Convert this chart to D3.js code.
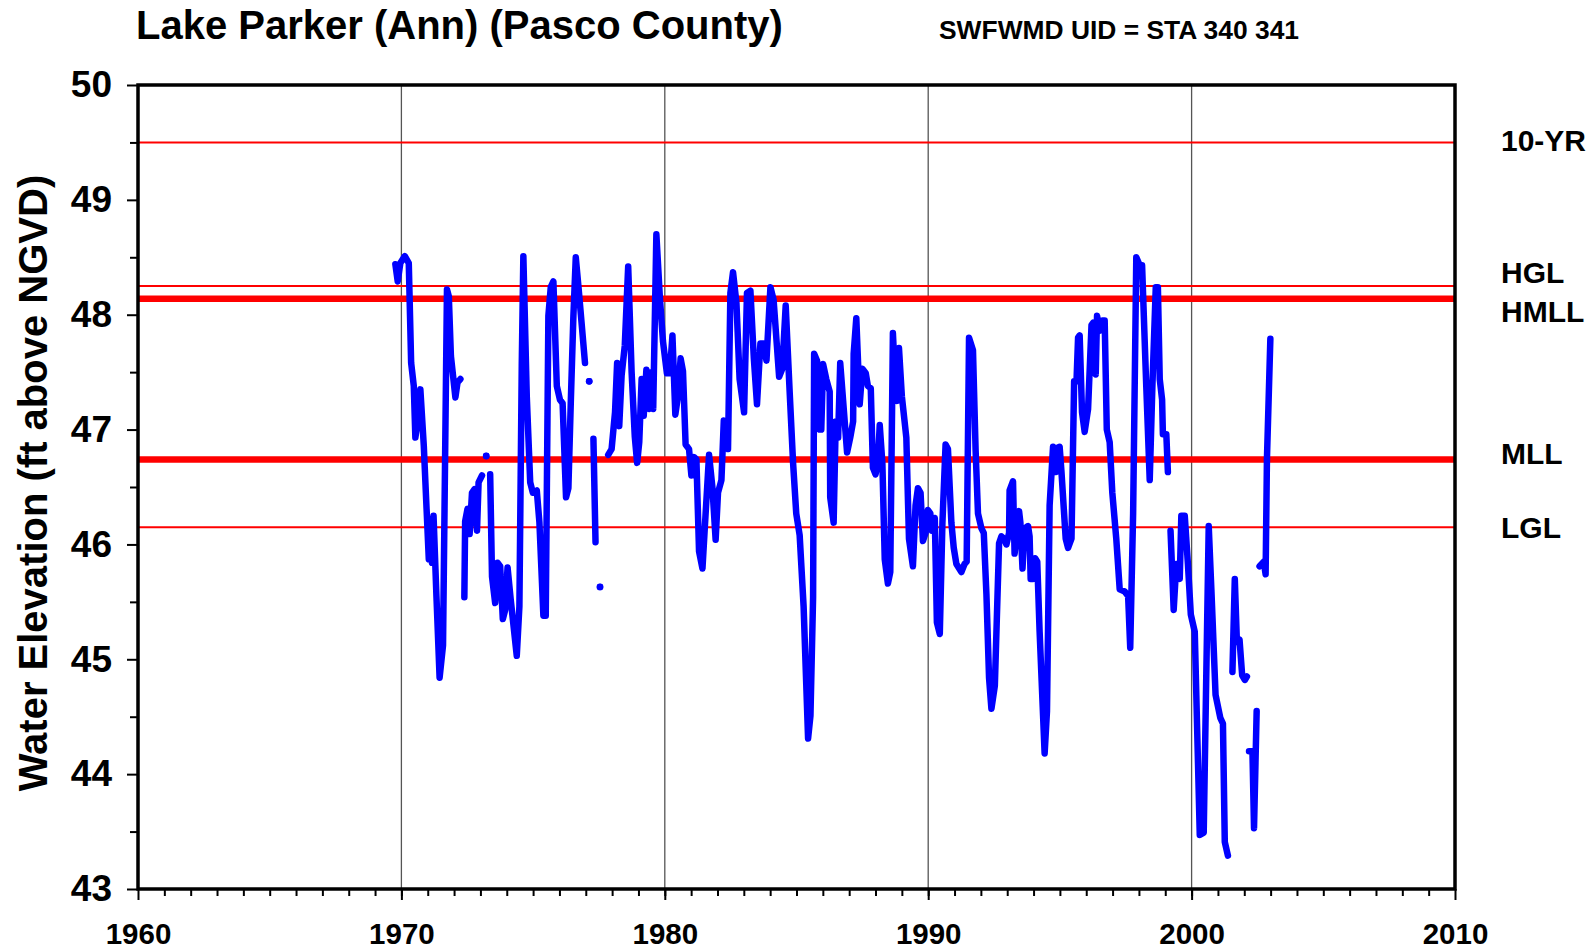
<!DOCTYPE html>
<html>
<head>
<meta charset="utf-8">
<script src="https://cdn.jsdelivr.net/npm/d3@7"></script>
<style>
  body { margin: 0; background: #fff; }
  text { font-family: "Liberation Sans", Arial, sans-serif; font-weight: bold; fill: #000; }
</style>
</head>
<body>
<script>
// lake stage readings (decimal year, ft NGVD); null = break in the record
const years = [
  1969.77,1969.86,1969.96,1970.13,1970.28,1970.37,1970.47,1970.53,1970.63,1970.72,1970.85,1971.04,1971.10,1971.16,1971.22,1971.33,1971.45,1971.58,1971.73,1971.80,1971.88,1972.05,1972.13,1972.24,
  1972.30,
  1972.39,1972.42,1972.51,1972.59,1972.68,1972.77,1972.87,1972.93,1973.06,
  1973.14, 1973.22, 1973.30,
  1973.37,1973.44,1973.56,1973.65,1973.75,1973.85,1973.94,1974.03,1974.15,1974.38,1974.48,1974.57,1974.63,1974.76,1974.89,1974.99,1975.14,1975.24,1975.39,1975.48,1975.58,1975.67,1975.77,1975.90,1976.02,1976.12,1976.25,1976.34,1976.43,1976.53,1976.62,1976.72,1976.84,1976.97,
  1977.05, 1977.13, 1977.20,
  1977.29,1977.37,
  1977.45, 1977.54, 1977.70,
  1977.85,1977.98,1978.11,1978.19,1978.27,1978.36,1978.48,1978.61,1978.74,1978.86,1978.95,1979.03,1979.12,1979.20,1979.30,1979.41,1979.49,1979.56,1979.68,1979.81,1979.93,
  1980.08,1980.19,1980.29,1980.40,1980.50,1980.60,1980.69,1980.79,1980.92,1981.01,1981.11,1981.20,1981.30,1981.43,1981.55,1981.68,1981.81,1981.93,1982.02,1982.15,1982.24,1982.40,1982.49,1982.59,1982.72,1982.84,
  1983.01,1983.12,1983.25,1983.38,1983.50,1983.63,1983.75,1983.86,1984.01,1984.13,1984.34,1984.46,1984.59,1984.74,1984.87,1984.99,1985.12,1985.27,1985.44,1985.53,1985.63,1985.67,1985.78,1985.88,1985.94,
  1986.01,1986.13,1986.26,1986.28,1986.41,1986.49,1986.58,1986.66,1986.77,1986.92,1987.04,1987.15,1987.17,1987.27,1987.40,1987.50,1987.63,1987.71,1987.82,1987.90,1988.00,1988.09,1988.16,1988.26,1988.35,1988.47,1988.56,1988.66,1988.76,1988.82,1988.89,
  1989.00,1989.17,1989.27,1989.42,1989.52,1989.61,1989.71,1989.80,1989.90,1989.99,1990.08,1990.14,1990.25,1990.33,1990.44,1990.54,1990.66,1990.75,1990.88,1990.97,1991.07,1991.26,1991.38,1991.46,1991.55,1991.70,1991.80,1991.89,
  1992.02,1992.11,1992.21,1992.31,1992.40,1992.53,1992.69,1992.78,1992.88,1992.97,1993.07,1993.09,1993.22,1993.28,1993.37,1993.45,1993.50,1993.58,1993.66,1993.79,1993.85,1993.89,1993.98,
  1994.06,1994.14,1994.23,1994.42,1994.51,1994.61,1994.74,1994.84,1994.89,1994.99,1995.06,1995.22,1995.31,1995.44,1995.54,1995.63,1995.69,1995.75,1995.84,1995.94,
  1996.07,1996.20,1996.26,1996.36,1996.41,1996.51,1996.61,1996.70,1996.78,1996.89,1996.99,1997.14,1997.27,1997.46,1997.59,1997.67,1997.78,1997.90,
  1998.03,1998.12,1998.28,1998.41,1998.51,1998.64,1998.72,1998.79,1998.88,1998.91,1999.04,1999.10,
  1999.15,
  1999.20,1999.32,1999.42,1999.55,1999.61,1999.74,1999.86,1999.97,2000.12,2000.31,2000.46,2000.65,2000.75,2000.91,2001.09,2001.19,2001.26,2001.38,
  2001.46,
  2001.55,2001.64,2001.72,2001.82,2001.92,2002.02,2002.10,
  2002.14,
  2002.18,2002.31,2002.37,2002.47,
  2002.52,
  2002.58,2002.74,2002.81,2002.86,2002.99
];
const levels = [
  48.44,48.29,48.45,48.51,48.45,47.58,47.38,46.93,47.09,47.35,46.86,45.87,46.22,45.84,46.25,45.55,44.84,45.12,48.22,48.16,47.64,47.28,47.41,47.44,
  null,
  45.54,46.20,46.31,46.09,46.45,46.48,46.12,46.54,46.60,
  null, 46.77, null,
  46.61,45.72,45.49,45.84,45.81,45.35,45.43,45.80,45.52,45.03,45.46,47.58,48.51,47.29,46.54,46.45,46.47,46.19,45.38,45.38,47.99,48.24,48.29,47.38,47.26,47.23,46.41,46.49,47.23,47.99,48.50,48.25,47.93,47.58,
  null, 47.42, null,
  46.92,46.02,
  null, 45.63, null,
  46.78,46.83,47.15,47.58,47.03,47.47,47.73,48.42,47.50,46.94,46.71,46.89,47.44,47.12,47.52,47.18,47.50,47.18,48.70,48.16,47.77,
  47.49,47.49,47.82,47.13,47.29,47.62,47.51,46.87,46.83,46.60,46.76,46.74,45.94,45.79,46.27,46.78,46.49,46.04,46.45,46.56,47.08,46.83,48.19,48.37,48.10,47.44,
  47.15,48.19,48.21,47.62,47.22,47.75,47.75,47.60,48.24,48.13,47.46,47.53,48.08,47.33,46.71,46.27,46.08,45.46,44.31,44.51,45.54,47.66,47.60,47.00,47.00,
  47.57,47.44,47.33,46.41,46.19,47.07,46.93,47.58,47.25,46.80,46.93,47.07,47.66,47.97,47.22,47.53,47.49,47.38,47.36,46.67,46.61,46.71,47.04,46.71,45.87,45.66,45.76,47.84,47.36,47.25,47.71,
  47.29,46.93,46.05,45.81,46.34,46.49,46.45,46.03,46.10,46.30,46.27,46.12,46.23,45.32,45.22,46.19,46.87,46.83,46.19,45.97,45.83,45.76,45.83,45.85,47.80,47.69,46.82,46.27,
  46.14,46.10,45.57,44.84,44.57,44.77,46.01,46.07,46.05,46.00,46.10,46.47,46.55,45.92,46.14,46.29,46.19,45.79,46.14,46.16,46.07,45.70,45.70,
  45.88,45.85,45.24,44.18,44.55,46.34,46.85,46.63,46.84,46.85,46.63,46.05,45.97,46.05,47.42,47.42,47.80,47.82,47.15,46.98,
  47.18,47.91,47.93,47.48,47.99,47.86,47.95,47.95,47.00,46.89,46.45,46.05,45.61,45.59,45.55,45.10,46.27,48.50,
  48.43,48.43,47.37,46.56,47.37,48.24,48.24,47.44,47.26,46.96,46.96,46.63,
  null,
  46.12,45.43,45.83,45.70,46.25,46.25,45.83,45.39,45.24,43.47,43.49,46.16,45.61,44.69,44.49,44.44,43.41,43.29,
  null,
  44.89,45.70,45.15,45.17,44.86,44.82,44.85,
  null,
  44.20,44.20,43.53,44.55,
  null,
  45.81,45.85,45.74,46.74,47.79
];

// guidance levels (ft NGVD)
const refNames = ["10-YR", "HGL", "HMLL", "MLL", "LGL"];
const refLevels = [49.5, 48.25, 48.14, 46.74, 46.15];
const refHeavy = [false, false, true, true, false];

const yTicks = [43, 44, 45, 46, 47, 48, 49, 50];
const xTicks = [1960, 1970, 1980, 1990, 2000, 2010];
const gridYears = [1970, 1980, 1990, 2000];

const title = "Lake Parker (Ann) (Pasco County)";
const subtitle = "SWFWMD UID = STA 340 341";
const yTitle = "Water Elevation (ft above NGVD)";

const width = 1595, height = 950;
const margin = {left: 138, top: 85, right: 140, bottom: 61};
const w = width - margin.left - margin.right;
const h = height - margin.top - margin.bottom;

const svg = d3.select("body").append("svg")
  .attr("width", width)
  .attr("height", height);

const x = d3.scaleLinear().domain([1960, 2010]).range([0, w]);
const y = d3.scaleLinear().domain([43, 50]).range([h, 0]);

const g = svg.append("g")
  .attr("transform", `translate(${margin.left},${margin.top})`);

// vertical grid
g.selectAll(".grid")
  .data(gridYears)
  .enter()
  .append("line")
  .attr("class", "grid")
  .attr("x1", d => x(d)).attr("x2", d => x(d))
  .attr("y1", 0).attr("y2", h)
  .attr("stroke", "#555")
  .attr("stroke-width", 1.3);

// reference lines
g.selectAll(".ref")
  .data(refLevels)
  .enter()
  .append("line")
  .attr("class", "ref")
  .attr("x1", 0).attr("x2", w)
  .attr("y1", d => y(d)).attr("y2", d => y(d))
  .attr("stroke", "#ff0000")
  .attr("stroke-width", (d, i) => refHeavy[i] ? 6.5 : 2);

// water level series
const pts = years.map((yr, i) => ({year: yr, level: levels[i]}));
const line = d3.line()
  .defined(d => d.level !== null)
  .x(d => x(d.year))
  .y(d => y(d.level));

g.append("path")
  .datum(pts)
  .attr("d", line)
  .attr("fill", "none")
  .attr("stroke", "#0000ff")
  .attr("stroke-width", 6.5)
  .attr("stroke-linejoin", "round")
  .attr("stroke-linecap", "round");

// lone readings between gaps
const lone = pts.filter((d, i) => d.level !== null
  && (i === 0 || pts[i - 1].level === null)
  && (i === pts.length - 1 || pts[i + 1].level === null));
g.selectAll(".lone")
  .data(lone)
  .enter()
  .append("circle")
  .attr("class", "lone")
  .attr("cx", d => x(d.year))
  .attr("cy", d => y(d.level))
  .attr("r", 3.4)
  .attr("fill", "#0000ff");

// axes
const yAxis = g.append("g")
  .call(d3.axisLeft(y).tickValues(yTicks).tickSize(11).tickPadding(15).tickFormat(d3.format("d")));
yAxis.select(".domain").remove();
yAxis.selectAll("line").attr("stroke-width", 2);
yAxis.selectAll("text").style("font-size", "37px");

const yMinor = g.append("g")
  .call(d3.axisLeft(y).tickValues(d3.range(43.5, 50, 1)).tickSize(8).tickFormat(""));
yMinor.select(".domain").remove();
yMinor.selectAll("line").attr("stroke-width", 2);

const xAxis = g.append("g")
  .attr("transform", `translate(0,${h})`)
  .call(d3.axisBottom(x).tickValues(xTicks).tickSize(11).tickFormat(d3.format("d")));
xAxis.select(".domain").remove();
xAxis.selectAll("line").attr("stroke-width", 2);
xAxis.selectAll("text")
  .attr("y", 55)
  .attr("dy", 0)
  .style("font-size", "29.5px");

const xMinor = g.append("g")
  .attr("transform", `translate(0,${h})`)
  .call(d3.axisBottom(x).tickValues(d3.range(1961, 2010)).tickSize(7).tickFormat(""));
xMinor.select(".domain").remove();
xMinor.selectAll("line").attr("stroke-width", 2);

// frame
g.append("rect")
  .attr("width", w).attr("height", h)
  .attr("fill", "none")
  .attr("stroke", "#000")
  .attr("stroke-width", 3.5);

// labels for guidance levels
const nudge = {"10-YR": -2, "HGL": -14, "HMLL": 13, "MLL": -6};
g.selectAll(".refLabel")
  .data(refNames)
  .enter()
  .append("text")
  .attr("class", "refLabel")
  .attr("x", w + 46)
  .attr("y", (d, i) => y(refLevels[i]) + (nudge[d] || 0))
  .attr("dy", "0.36em")
  .style("font-size", "30px")
  .text(d => d);

// titles
svg.append("text")
  .attr("x", 136).attr("y", 39)
  .style("font-size", "40px")
  .text(title);

svg.append("text")
  .attr("x", 939).attr("y", 39)
  .style("font-size", "26.4px")
  .text(subtitle);

svg.append("text")
  .attr("transform", `translate(47,${margin.top + h / 2 - 4}) rotate(-90)`)
  .attr("text-anchor", "middle")
  .style("font-size", "40px")
  .text(yTitle);
</script>
</body>
</html>
